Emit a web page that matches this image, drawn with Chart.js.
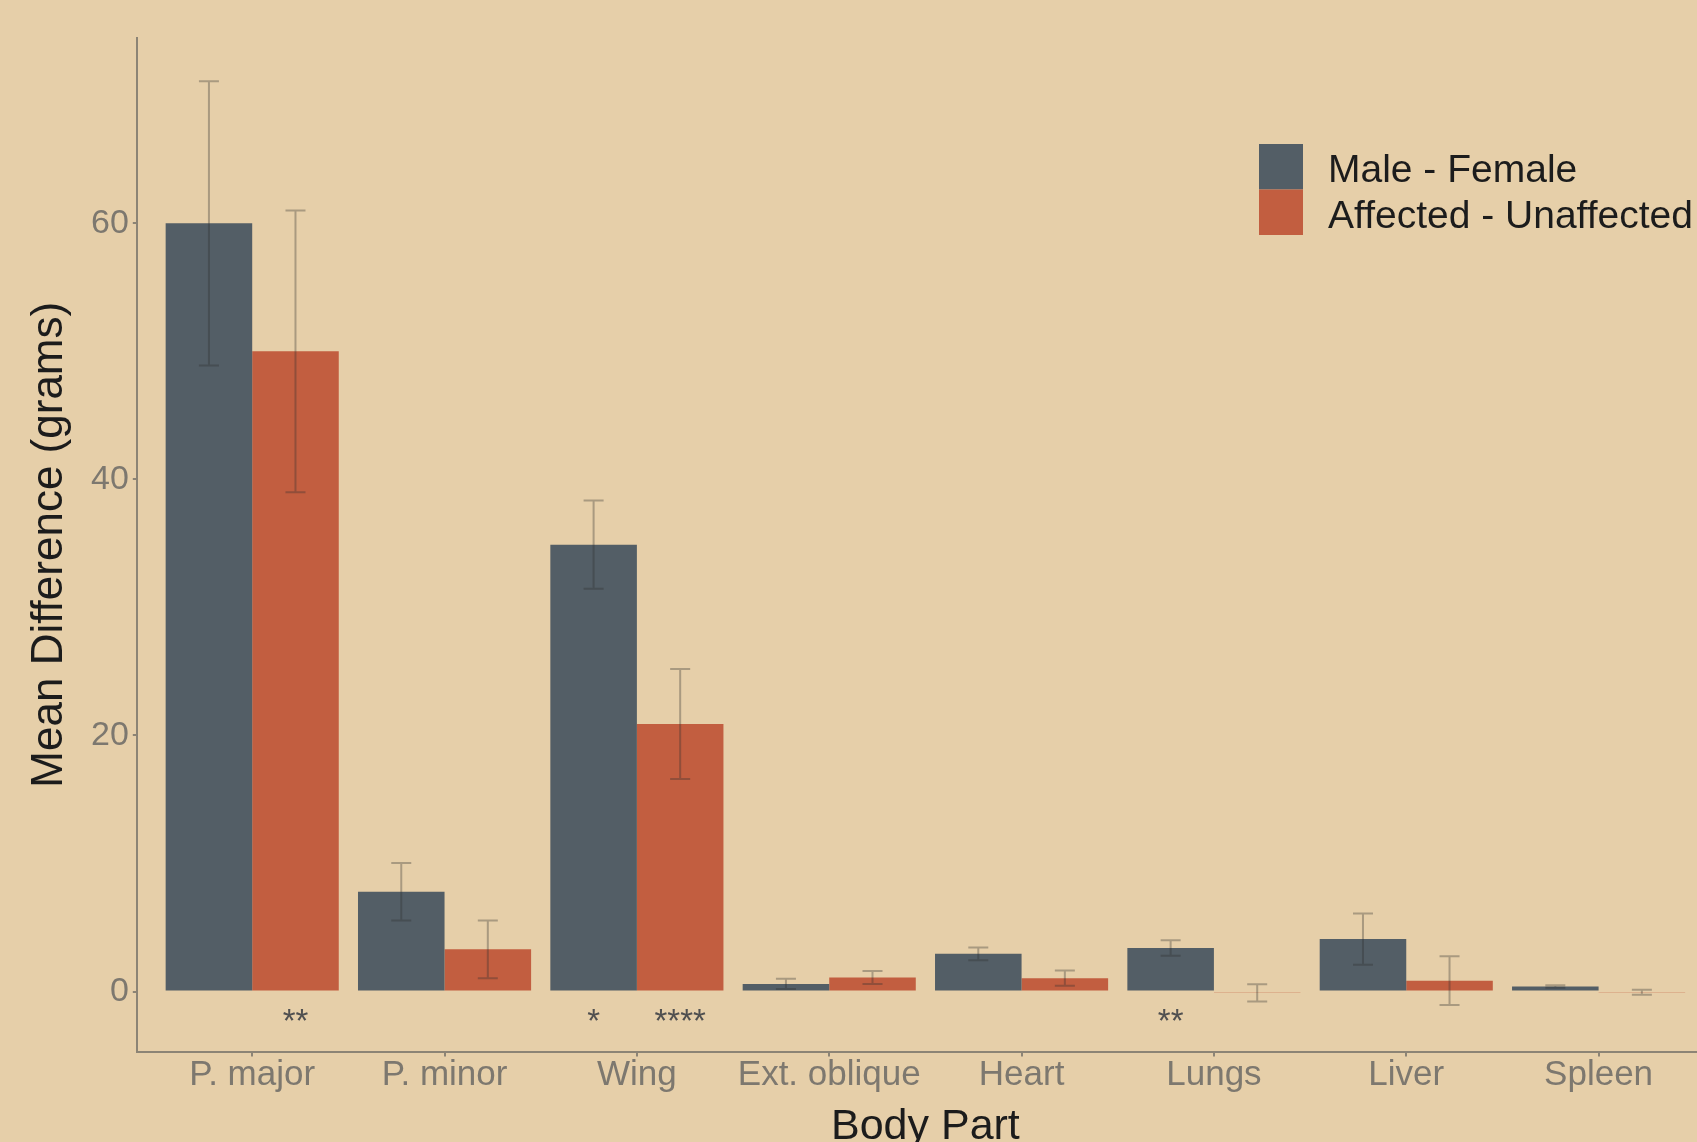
<!DOCTYPE html>
<html>
<head>
<meta charset="utf-8">
<title>Mean Difference by Body Part</title>
<script src="https://cdn.jsdelivr.net/npm/chart.js@4"></script>
<style>
  html, body { margin: 0; padding: 0; background: #e6cfa9; overflow: hidden; }
  #wrap { width: 1714px; height: 1160px; }
  canvas { display: block; }
</style>
</head>
<body>
<div id="wrap"><canvas id="chart" width="1714" height="1160"></canvas></div>
<script>
// Body parts along the x axis
const categories = ['P. major', 'P. minor', 'Wing', 'Ext. oblique', 'Heart', 'Lungs', 'Liver', 'Spleen'];

// Mean differences (grams) and their error half-widths
const maleFemale      = [60.0, 7.8, 34.9, 0.6, 2.95, 3.4, 4.1, 0.4];
const maleFemaleErr   = [11.1, 2.25, 3.45, 0.4, 0.5, 0.6, 2.0, 0.1];
const affected        = [50.0, 3.3, 20.9, 1.1, 1.05, -0.1, 0.85, -0.05];
const affectedErr     = [11.0, 2.25, 4.3, 0.5, 0.6, 0.68, 1.9, 0.2];

// Significance marks printed under each bar
const sigMale     = ['', '', '*', '', '', '**', '', ''];
const sigAffected = ['**', '', '****', '', '', '', '', ''];

// Axis ticks
const yTicks = [0, 20, 40, 60];

const seriesNames = ['Male - Female', 'Affected - Unaffected'];
const seriesColors = ['#535e66', '#c25e40'];

const FONT = '"Liberation Sans", Arial, Helvetica, sans-serif';
const AXIS_COLOR = '#8c8475';
const TICK_COLOR = '#7d786f';
const TITLE_COLOR = '#1c1c1c';
const STAR_Y = -3.15;

const errors = [maleFemaleErr, affectedErr];
const marks = [sigMale, sigAffected];

// Error bars drawn on top of each bar
const errorBarPlugin = {
  id: 'errorBars',
  afterDatasetsDraw(chart) {
    const ctx = chart.ctx;
    const y = chart.scales.y;
    ctx.save();
    ctx.strokeStyle = 'rgba(45,45,45,0.33)';
    ctx.lineWidth = 2;
    chart.data.datasets.forEach((ds, d) => {
      const meta = chart.getDatasetMeta(d);
      meta.data.forEach((bar, i) => {
        const v = ds.data[i].y;
        const e = errors[d][i];
        const top = y.getPixelForValue(v + e);
        const bot = y.getPixelForValue(v - e);
        const half = 10;
        ctx.beginPath();
        ctx.moveTo(bar.x, top); ctx.lineTo(bar.x, bot);
        ctx.moveTo(bar.x - half, top); ctx.lineTo(bar.x + half, top);
        ctx.moveTo(bar.x - half, bot); ctx.lineTo(bar.x + half, bot);
        ctx.stroke();
      });
    });
    ctx.restore();
  }
};

// Asterisks marking significant differences
const starPlugin = {
  id: 'stars',
  afterDatasetsDraw(chart) {
    const ctx = chart.ctx;
    const y = chart.scales.y.getPixelForValue(STAR_Y);
    ctx.save();
    ctx.fillStyle = '#505050';
    ctx.font = '33px ' + FONT;
    ctx.textAlign = 'center';
    ctx.textBaseline = 'alphabetic';
    chart.data.datasets.forEach((ds, d) => {
      chart.getDatasetMeta(d).data.forEach((bar, i) => {
        if (marks[d][i]) ctx.fillText(marks[d][i], bar.x, y);
      });
    });
    ctx.restore();
  }
};

// Legend with stacked square keys
const legendPlugin = {
  id: 'stackedLegend',
  afterDraw(chart) {
    const ctx = chart.ctx;
    const keyX = 1259, keyY = 144, keyW = 44, keyH = 45.5;
    ctx.save();
    ctx.font = '39px ' + FONT;
    ctx.textBaseline = 'alphabetic';
    ctx.textAlign = 'left';
    chart.data.datasets.forEach((ds, d) => {
      const top = keyY + d * keyH;
      ctx.fillStyle = ds.backgroundColor;
      ctx.fillRect(keyX, top, keyW, keyH);
      ctx.fillStyle = TITLE_COLOR;
      ctx.fillText(ds.label, keyX + 69, top + 38);
    });
    ctx.restore();
  }
};

const toPoints = vals => vals.map((v, i) => ({ x: i + 1, y: v }));

new Chart(document.getElementById('chart'), {
  type: 'bar',
  data: {
    datasets: [
      { label: seriesNames[0], data: toPoints(maleFemale), backgroundColor: seriesColors[0] },
      { label: seriesNames[1], data: toPoints(affected), backgroundColor: seriesColors[1] }
    ]
  },
  options: {
    responsive: false,
    animation: false,
    devicePixelRatio: 1,
    layout: { padding: { top: 38, right: 0, bottom: 0, left: 0 } },
    datasets: { bar: { categoryPercentage: 0.9, barPercentage: 1.0 } },
    plugins: { legend: { display: false }, tooltip: { enabled: false } },
    scales: {
      x: {
        type: 'linear',
        min: 0.4,
        max: 8.6,
        offset: false,
        afterBuildTicks: s => { s.ticks = categories.map((_, i) => ({ value: i + 1 })); },
        afterFit: s => { s.height = 108.5; },
        ticks: {
          callback: v => categories[Math.round(v) - 1],
          autoSkip: false, maxRotation: 0,
          font: { family: FONT, size: 35, lineHeight: 0.9 },
          color: TICK_COLOR,
          padding: 3
        },
        grid: { offset: false, drawOnChartArea: false, drawTicks: true, tickLength: 5, color: AXIS_COLOR, lineWidth: 2 },
        border: { display: true, color: AXIS_COLOR, width: 2 },
        title: {
          display: true, text: 'Body Part', color: TITLE_COLOR,
          font: { family: FONT, size: 43 },
          padding: { top: 0, bottom: 7 }
        }
      },
      y: {
        min: -4.68,
        max: 74.47,
        afterBuildTicks: s => { s.ticks = yTicks.map(v => ({ value: v })); },
        afterFit: s => { s.width = 136.8; },
        ticks: { font: { family: FONT, size: 34 }, color: TICK_COLOR, padding: 4 },
        grid: { drawOnChartArea: false, drawTicks: true, tickLength: 4, color: AXIS_COLOR, lineWidth: 2 },
        border: { display: true, color: AXIS_COLOR, width: 2 },
        title: {
          display: true, text: 'Mean Difference (grams)', color: TITLE_COLOR,
          font: { family: FONT, size: 44 },
          padding: { top: 23, bottom: 0 }
        }
      }
    }
  },
  plugins: [errorBarPlugin, starPlugin, legendPlugin]
});
</script>
</body>
</html>
